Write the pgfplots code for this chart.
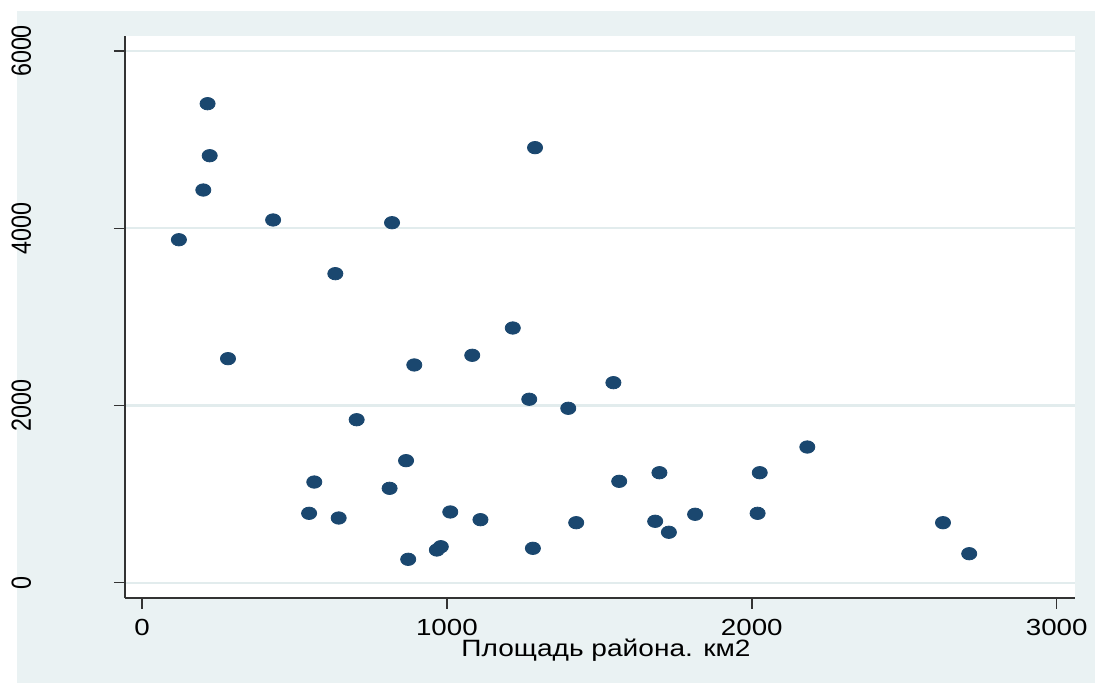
\documentclass[border=0pt]{standalone}
\usepackage{fontspec}
\setmainfont{Liberation Sans}
\usepackage{pgfplots}
\pgfplotsset{compat=1.18}
\definecolor{statanavy}{HTML}{1A476F}
\definecolor{statabg}{HTML}{EAF2F3}
\definecolor{gridc}{HTML}{E2ECED}
\begin{document}
\begin{tikzpicture}
\fill[white] (0,0) rectangle (548pt,341.5pt);
\fill[statabg] (8.5pt,0) rectangle (547.5pt,336pt);
\begin{axis}[
  at={(62.5pt,42.5pt)}, anchor=south west,
  width=475pt, height=281pt, scale only axis,
  xmin=-55.8, xmax=3060, ymin=-172.6, ymax=6169,
  axis x line*=bottom, axis y line*=left,
  axis line style={black!80, line width=0.7pt, -},
  axis background/.style={fill=white},
  xtick={0,1000,2000,3000}, ytick={0,2000,4000,6000},
  xticklabels={0,1000,2000,3000}, yticklabels={0,2000,4000,6000},
  tick align=outside, major tick length=5.5pt,
  tick style={black!80, line width=0.7pt},
  ymajorgrids, major grid style={gridc, line width=1.1pt},
  xticklabel style={font=\fontsize{11.65}{14}\selectfont, xscale=1.19, yshift=-1.5pt},
  yticklabel style={xshift=-41.5pt, font=\fontsize{11.65}{14}\selectfont, rotate=90, yscale=1.19, anchor=base},
  clip=false,
]
\addplot[only marks, color=statanavy, mark=*, mark size=3.1pt, mark options={xscale=1.22, fill=statanavy, draw=none}] coordinates {
(215,5405) (222,4818) (201,4431) (121,3870) (430,4093) (820,4062) (1289,4909)
(634,3487) (282,2528) (1216,2874) (1083,2566) (893,2457) (1546,2257) (1270,2070)
(1398,1968) (704,1839) (2182,1531) (866,1377) (565,1136) (812,1065) (1565,1144)
(1697,1241) (2026,1241) (548,783) (645,730) (1011,798) (1110,711) (1424,677)
(1683,693) (1814,772) (2019,783) (1728,569) (2627,677) (2713,327) (873,264)
(967,369) (980,406) (1282,388)
};
\end{axis}
\node[anchor=base, font=\fontsize{11.8}{14}\selectfont, xscale=1.19] at (303pt,13pt) {Площадь района. км2};
\end{tikzpicture}
\end{document}
